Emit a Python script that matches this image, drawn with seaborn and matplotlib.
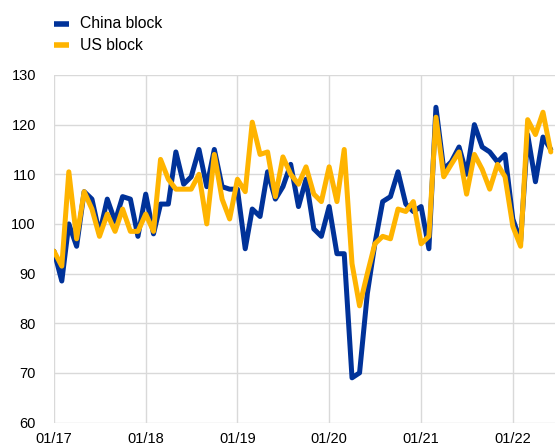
import numpy as np
import pandas as pd
import matplotlib
matplotlib.use("Agg")
import matplotlib.pyplot as plt
import matplotlib.dates as mdates
from matplotlib.lines import Line2D
import seaborn as sns

# ---- data ----
months = pd.date_range("2017-01-01", periods=66, freq="MS")
china_block = [94.5, 88.5, 100, 95.5, 106.5, 105, 98, 105, 100.5, 105.5, 105, 97.5,
               106, 98, 104, 104, 114.5, 108, 109.5, 115, 107.5, 115, 107.5, 107,
               107, 95, 103, 101.5, 110.5, 105, 107.5, 112, 103.5, 109, 99, 97.5,
               103.5, 94, 94, 69, 70, 86, 96, 104.5, 105.5, 110.5, 104, 102.5,
               103.5, 95, 123.5, 111, 112.5, 115.5, 110, 120, 115.5, 114.5, 112.5, 114,
               101, 96.5, 118, 108.5, 117.5, 115]
us_block = [94.5, 91.5, 110.5, 97, 106.5, 103, 97.5, 102, 98.5, 103, 98.5, 98.5,
            102, 98.5, 113, 109, 107, 107, 107, 110, 100, 114, 105, 101,
            109, 106.5, 120.5, 114, 114.5, 105.5, 113.5, 110, 108, 111.5, 106, 104.5,
            111.5, 104.5, 115, 92, 83.5, 90, 96, 97.5, 97, 103, 102.5, 104.5,
            96, 97.5, 121.5, 109.5, 112, 114.5, 106, 114, 111, 107, 112, 109.5,
            99.5, 95.5, 121, 118, 122.5, 114.5]
series_names = ["China block", "US block"]
tick_years = [2017, 2018, 2019, 2020, 2021, 2022]
y_ticks = [60, 70, 80, 90, 100, 110, 120, 130]

df = pd.DataFrame({
    "date": list(months) * 2,
    "value": china_block + us_block,
    "series": [series_names[0]] * len(months) + [series_names[1]] * len(months),
})

sns.set_theme(style="white")
plt.rcParams["font.family"] = ["Liberation Sans", "DejaVu Sans"]

W, H = 555, 446
fig = plt.figure(figsize=(W / 100, H / 100), dpi=100)
ax = fig.add_axes([54 / W, (H - 422.5) / H, (W - 54) / W, (422.5 - 75) / H])

palette = {"China block": "#003299", "US block": "#FFB400"}
sns.lineplot(data=df, x="date", y="value", hue="series", palette=palette,
             linewidth=3.6, ax=ax, legend=False)

ax.set_ylim(60, 130)
ax.set_yticks(y_ticks)
ax.set_xlim(pd.Timestamp("2017-01-01"), pd.Timestamp("2017-01-01") + pd.Timedelta(days=65.5 * 30.44))
ax.set_xticks([pd.Timestamp(f"{y}-01-01") for y in tick_years])
ax.xaxis.set_major_formatter(mdates.DateFormatter("%m/%y"))

ax.grid(True, color="#d9d9d9", linewidth=1.0)
ax.set_axisbelow(True)
for s in ax.spines.values():
    s.set_visible(False)
ax.tick_params(axis="both", length=0, labelsize=10.5, colors="#000000")
ax.tick_params(axis="y", pad=13)
ax.tick_params(axis="x", pad=7)
ax.set_xlabel("")
ax.set_ylabel("")

# legend (manual, in pixel positions)
for name, ypx in zip(series_names, [24, 45]):
    yf = (H - ypx) / H
    fig.add_artist(Line2D([54 / W, 69 / W], [yf, yf], color=palette[name],
                          linewidth=4, solid_capstyle="butt", transform=fig.transFigure))
    fig.text(80 / W, yf, name, fontsize=11.3, va="center", ha="left", color="#000000")

fig.savefig("out.png", dpi=100)
